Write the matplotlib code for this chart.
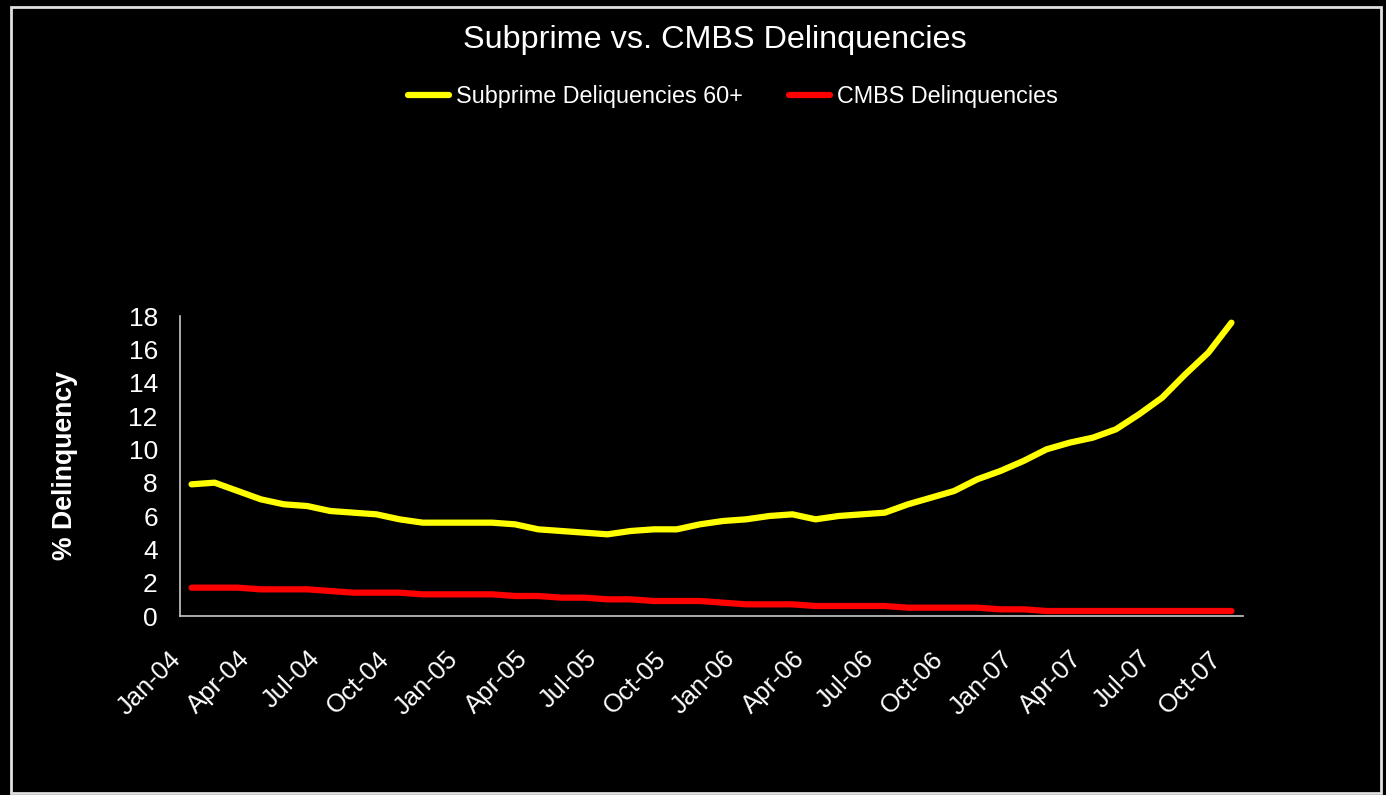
import matplotlib
matplotlib.use("Agg")
from matplotlib import pyplot as plt
from matplotlib.patches import Rectangle
from matplotlib.transforms import ScaledTranslation

plt.rcParams['font.family'] = ['Liberation Sans', 'DejaVu Sans']

months = ['Jan-04', 'Feb-04', 'Mar-04', 'Apr-04', 'May-04', 'Jun-04', 'Jul-04', 'Aug-04',
          'Sep-04', 'Oct-04', 'Nov-04', 'Dec-04', 'Jan-05', 'Feb-05', 'Mar-05', 'Apr-05',
          'May-05', 'Jun-05', 'Jul-05', 'Aug-05', 'Sep-05', 'Oct-05', 'Nov-05', 'Dec-05',
          'Jan-06', 'Feb-06', 'Mar-06', 'Apr-06', 'May-06', 'Jun-06', 'Jul-06', 'Aug-06',
          'Sep-06', 'Oct-06', 'Nov-06', 'Dec-06', 'Jan-07', 'Feb-07', 'Mar-07', 'Apr-07',
          'May-07', 'Jun-07', 'Jul-07', 'Aug-07', 'Sep-07', 'Oct-07']

subprime = [7.9, 8.0, 7.5, 7.0, 6.7, 6.6, 6.3, 6.2, 6.1, 5.8, 5.6, 5.6,
            5.6, 5.6, 5.5, 5.2, 5.1, 5.0, 4.9, 5.1, 5.2, 5.2, 5.5, 5.7,
            5.8, 6.0, 6.1, 5.8, 6.0, 6.1, 6.2, 6.7, 7.1, 7.5, 8.2, 8.7,
            9.3, 10.0, 10.4, 10.7, 11.2, 12.1, 13.1, 14.5, 15.8, 17.6]

cmbs = [1.7, 1.7, 1.7, 1.6, 1.6, 1.6, 1.5, 1.4, 1.4, 1.4, 1.3, 1.3,
        1.3, 1.3, 1.2, 1.2, 1.1, 1.1, 1.0, 1.0, 0.9, 0.9, 0.9, 0.8,
        0.7, 0.7, 0.7, 0.6, 0.6, 0.6, 0.6, 0.5, 0.5, 0.5, 0.5, 0.4,
        0.4, 0.3, 0.3, 0.3, 0.3, 0.3, 0.3, 0.3, 0.3, 0.3]

fig = plt.figure(figsize=(13.86, 7.95), dpi=100, facecolor='black')
# thin white frame around the whole chart area
fig.patches.append(Rectangle((11 / 1386, 2 / 795), 1370 / 1386, 786 / 795,
                             transform=fig.transFigure, fill=False,
                             edgecolor='#e0e0e0', linewidth=2))

ax = fig.add_axes([180 / 1386, 1 - 616 / 795, 1063 / 1386, 300 / 795], facecolor='black')
x = list(range(len(months)))
ax.plot(x, subprime, color='#ffff00', linewidth=4.5, solid_capstyle='round',
        label='Subprime Deliquencies 60+')
ax.plot(x, cmbs, color='#ff0000', linewidth=4.5, solid_capstyle='round',
        label='CMBS Delinquencies')

ax.set_xlim(-0.5, len(months) - 0.5)
ax.set_ylim(0, 18)
ax.set_yticks(range(0, 19, 2))
ax.set_xticks(x[::3])
ax.set_xticklabels(months[::3], rotation=45, ha='right', va='top',
                   rotation_mode='anchor')
ax.tick_params(axis='both', length=0, colors='white')
ax.tick_params(axis='y', pad=16, labelsize=19)
ax.tick_params(axis='x', pad=22, labelsize=18.5)
# nudge the slanted date labels left so their ends sit under the points
shift = ScaledTranslation(-23 / 100, 0, fig.dpi_scale_trans)
for lbl in ax.get_xticklabels():
    lbl.set_transform(lbl.get_transform() + shift)
for side in ['top', 'right']:
    ax.spines[side].set_visible(False)
for side in ['left', 'bottom']:
    ax.spines[side].set_color('#c8c8c8')
    ax.spines[side].set_linewidth(1.2)

ax.set_ylabel('% Delinquency', color='white', fontsize=19.2, fontweight='bold', labelpad=36)

fig.text(715 / 1386, 1 - 40 / 795, 'Subprime vs. CMBS Delinquencies', color='white',
         fontsize=23.3, ha='center', va='center')
fig.legend(loc='center', bbox_to_anchor=(733 / 1386, 1 - 97 / 795), ncol=2,
           frameon=False, fontsize=16.8, labelcolor='white', handlelength=1.75,
           columnspacing=2.0, handletextpad=0.3)

fig.savefig('out.png', dpi=100, facecolor='black')
